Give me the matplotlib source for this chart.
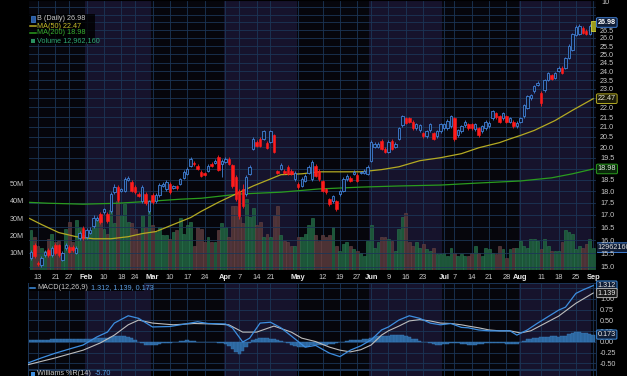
import matplotlib
matplotlib.use("Agg")
import matplotlib.pyplot as plt
import numpy as np
import pandas as pd
from matplotlib.lines import Line2D
from matplotlib.patches import Rectangle

# trading days on screen: Jan 9 .. Sep 2 2014
holidays = ["2014-01-20", "2014-02-17", "2014-04-18", "2014-05-26", "2014-07-04", "2014-09-01"]
days = pd.bdate_range("2014-01-09", "2014-09-02")
days = days[~days.isin(pd.to_datetime(holidays))]

opens = [
    15.33, 15.82, 15.16, 15.07, 15.44, 15.62, 15.44, 15.82, 15.80, 15.25,
    15.70, 15.74, 15.74, 15.51, 16.09, 16.49, 16.13, 16.29, 16.53, 16.81,
    17.02, 17.10, 17.02, 17.14, 17.95, 18.17, 18.00, 18.00, 18.50, 18.40,
    18.17, 17.87, 17.56, 17.87, 17.14, 17.82, 17.56, 17.82, 18.22, 18.09,
    18.31, 18.13, 18.22, 18.31, 18.58, 18.76, 19.13, 19.27, 19.13, 18.85,
    18.78, 18.90, 19.22, 19.27, 19.55, 19.22, 19.31, 19.45, 19.17, 18.62,
    18.00, 18.09, 17.87, 18.76, 19.93, 20.27, 20.42, 20.42, 20.22, 20.27,
    20.57, 18.88, 18.99, 18.90, 19.08, 18.90, 18.53, 18.31, 18.22, 18.44,
    18.81, 18.53, 19.13, 18.90, 18.44, 18.09, 17.65, 17.56, 17.56, 17.87,
    18.00, 18.53, 18.58, 18.76, 18.72, 18.81, 18.81, 18.76, 19.36, 20.02,
    20.02, 20.32, 19.93, 19.78, 20.32, 20.02, 20.42, 21.07, 21.43, 21.43,
    21.27, 20.92, 20.82, 20.67, 20.52, 20.82, 20.67, 20.52, 20.77, 20.92,
    20.92, 21.02, 21.43, 20.57, 20.77, 21.07, 21.12, 21.12, 20.87, 20.92,
    20.77, 20.92, 21.02, 21.43, 21.69, 21.53, 21.43, 21.53, 21.27, 21.27,
    21.02, 21.27, 21.53, 21.96, 22.49, 22.87, 23.21, 22.77, 22.93, 23.49,
    23.78, 23.61, 24.01, 24.19, 24.19, 24.78, 25.27, 26.17, 26.23, 26.65,
    26.46, 26.23, 26.52]
highs = [
    15.62, 15.90, 15.22, 15.40, 15.62, 15.70, 15.76, 15.88, 15.86, 15.58,
    15.90, 15.80, 15.80, 15.78, 16.35, 16.56, 16.48, 16.50, 16.98, 16.96,
    17.12, 17.30, 17.10, 17.95, 18.30, 18.26, 18.15, 18.62, 18.68, 18.50,
    18.25, 17.95, 18.25, 17.95, 17.62, 17.90, 17.90, 18.33, 18.38, 18.48,
    18.38, 18.26, 18.28, 18.58, 18.92, 19.05, 19.52, 19.33, 19.20, 18.92,
    18.85, 19.20, 19.28, 19.42, 19.62, 19.42, 19.52, 19.52, 19.22, 18.70,
    18.08, 18.30, 18.70, 19.15, 20.50, 20.35, 20.50, 20.85, 20.30, 20.85,
    20.65, 18.95, 19.24, 18.98, 19.14, 18.96, 18.88, 18.38, 18.60, 18.74,
    19.14, 19.40, 19.20, 18.96, 18.50, 18.15, 17.70, 17.85, 17.62, 18.06,
    18.60, 18.74, 18.64, 18.92, 18.78, 18.90, 18.96, 19.14, 20.35, 20.24,
    20.24, 20.40, 20.00, 20.34, 20.40, 20.24, 21.00, 21.62, 21.50, 21.50,
    21.35, 21.20, 21.14, 20.74, 20.84, 21.20, 20.74, 20.84, 21.20, 21.20,
    21.40, 21.60, 21.52, 20.90, 21.10, 21.34, 21.20, 21.20, 21.20, 21.00,
    21.10, 21.34, 21.30, 21.88, 21.76, 21.60, 21.76, 21.60, 21.50, 21.34,
    21.30, 21.50, 22.18, 22.68, 22.74, 23.24, 23.42, 22.88, 23.56, 23.98,
    23.86, 23.98, 24.28, 24.28, 24.86, 25.60, 26.32, 26.80, 26.88, 26.74,
    26.55, 26.86, 27.05]
lows = [
    15.26, 15.34, 15.05, 15.00, 15.38, 15.38, 15.38, 15.45, 15.38, 15.20,
    15.64, 15.50, 15.56, 15.46, 16.02, 16.02, 16.06, 16.22, 16.46, 16.76,
    16.62, 17.04, 16.66, 17.08, 17.88, 17.55, 17.94, 17.94, 18.44, 17.94,
    17.88, 17.74, 17.48, 17.42, 17.08, 17.46, 17.50, 17.76, 18.16, 18.02,
    17.88, 18.08, 18.06, 18.25, 18.52, 18.70, 19.06, 19.12, 18.92, 18.60,
    18.66, 18.84, 19.06, 19.20, 18.88, 18.62, 19.24, 19.16, 18.15, 17.58,
    16.85, 17.28, 17.80, 18.70, 19.86, 20.00, 20.00, 20.36, 19.90, 20.20,
    19.72, 18.74, 18.92, 18.74, 18.70, 18.70, 18.46, 18.10, 18.16, 18.38,
    18.74, 18.46, 18.60, 18.46, 17.94, 17.88, 17.38, 17.50, 17.16, 17.80,
    17.94, 18.46, 18.38, 18.70, 18.38, 18.74, 18.74, 18.70, 19.30, 19.95,
    19.95, 19.86, 19.72, 19.72, 19.86, 19.95, 20.36, 21.00, 21.15, 21.20,
    20.85, 20.86, 20.76, 20.45, 20.46, 20.76, 20.35, 20.46, 20.70, 20.86,
    20.86, 20.96, 20.30, 20.50, 20.70, 21.00, 20.86, 20.86, 20.80, 20.50,
    20.70, 20.86, 20.96, 21.36, 21.42, 21.20, 21.36, 21.20, 21.20, 20.96,
    20.96, 21.20, 21.46, 21.90, 22.42, 22.80, 23.14, 22.10, 22.86, 23.42,
    23.48, 23.54, 23.94, 23.84, 24.12, 24.72, 25.20, 26.10, 26.16, 26.26,
    26.16, 26.16, 26.46]
closes = [
    15.55, 15.40, 15.12, 15.33, 15.55, 15.44, 15.70, 15.51, 15.44, 15.51,
    15.82, 15.55, 15.62, 15.70, 16.29, 16.09, 16.41, 16.41, 16.89, 16.89,
    16.69, 17.23, 16.73, 17.87, 18.17, 17.61, 18.09, 18.53, 18.58, 18.00,
    17.95, 17.80, 18.17, 17.48, 17.56, 17.52, 17.82, 18.26, 18.31, 18.40,
    17.95, 18.20, 18.13, 18.53, 18.85, 18.99, 19.45, 19.19, 18.99, 18.67,
    18.72, 19.13, 19.13, 19.36, 18.95, 19.36, 19.45, 19.22, 18.22, 17.65,
    16.94, 17.35, 18.62, 19.08, 20.42, 20.07, 20.07, 20.77, 19.97, 20.77,
    19.78, 18.81, 19.17, 18.81, 18.76, 18.76, 18.81, 18.17, 18.53, 18.67,
    19.08, 19.31, 18.67, 18.53, 18.00, 17.95, 17.44, 17.78, 17.23, 18.00,
    18.53, 18.67, 18.44, 18.85, 18.44, 18.85, 18.90, 19.08, 20.27, 20.17,
    20.17, 19.93, 19.78, 20.27, 19.93, 20.17, 20.92, 21.53, 21.22, 21.27,
    20.92, 21.12, 21.07, 20.52, 20.77, 21.12, 20.42, 20.77, 21.12, 21.12,
    21.32, 21.53, 20.42, 20.82, 21.02, 21.27, 20.92, 20.92, 21.12, 20.57,
    21.02, 21.27, 21.22, 21.80, 21.48, 21.27, 21.69, 21.27, 21.43, 21.02,
    21.22, 21.43, 22.11, 22.60, 22.65, 23.15, 23.32, 22.22, 23.49, 23.90,
    23.55, 23.90, 24.19, 23.90, 24.78, 25.52, 26.23, 26.71, 26.78, 26.33,
    26.23, 26.78, 26.98]
volume_m = [
    23, 19, 14, 13, 11, 18, 21, 16, 17, 10,
    24, 28, 16, 29, 25, 20, 19, 22, 27, 30,
    31, 24, 21, 35, 27, 40, 32, 38, 28, 27,
    24, 21, 32, 25, 35, 26, 22, 25, 20, 20,
    18, 22, 23, 30, 21, 26, 28, 14, 25,
    24, 16, 19, 16, 16, 23, 27, 25, 19, 37,
    37, 31, 27, 41, 31, 36, 26, 28, 19, 21,
    19, 32, 37, 20, 17, 16, 14, 14, 19, 19,
    21, 26, 30, 20, 17, 20, 19, 20, 25, 14,
    11, 15, 16, 14, 12, 11, 10, 8, 17, 26,
    13, 16, 19, 19, 18, 17, 11, 24, 31, 33,
    16, 14, 16, 13, 15, 12, 11, 13, 9, 9,
    10, 8, 13, 10, 8, 9, 8, 8, 10, 14,
    10, 8, 13, 12, 10, 9, 14, 12, 7, 12,
    13, 13, 17, 14, 13, 18, 18, 17, 12, 18,
    14, 11, 11, 11, 16, 23, 22, 21, 12, 14,
    13, 15, 18, 12.96]

# moving averages (day number, value)
ma50_day = [-1, 3, 8, 13, 18, 23, 28, 32, 36, 41, 46, 49, 54, 59, 64, 69, 72, 78, 83, 89,
            95, 101, 106, 112, 118, 124, 129, 135, 138, 141, 145, 151, 156, 162]
ma50_val = [16.89, 16.61, 16.29, 16.13, 16.05, 16.05, 16.13, 16.25, 16.33, 16.61,
            16.89, 17.14, 17.52, 17.87, 18.22, 18.53, 18.72, 18.76, 18.85, 18.85,
            18.85, 18.95, 19.08, 19.36, 19.50, 19.69, 19.97, 20.22, 20.40, 20.57,
            20.82, 21.32, 21.85, 22.47]
ma200_day = [-1, 5, 15, 25, 34, 43, 49, 60, 72, 83, 95, 106, 118, 129, 141, 150, 156, 162]
ma200_val = [17.52, 17.48, 17.44, 17.48, 17.56, 17.65, 17.69, 17.87, 17.95, 18.09,
             18.17, 18.22, 18.26, 18.35, 18.44, 18.58, 18.76, 18.98]

macd_day = [-1, 3, 7, 12, 15, 19, 22, 24, 28, 31, 35, 40, 43, 48, 51, 56, 58, 61, 63, 66,
            69, 72, 75, 79, 82, 86, 89, 92, 95, 98, 101, 103, 106, 109, 112, 115, 118, 121,
            124, 126, 129, 132, 135, 138, 140, 143, 146, 149, 152, 154, 157, 159, 162]
macd_val = [-0.49, -0.37, -0.26, -0.14, -0.07, 0.12, 0.23, 0.44, 0.61, 0.55,
            0.35, 0.36, 0.40, 0.47, 0.43, 0.42, 0.33, 0.00, 0.09, 0.44,
            0.46, 0.33, 0.14, -0.12, -0.08, -0.26, -0.34, -0.19, -0.09, 0.05,
            0.28, 0.35, 0.51, 0.61, 0.55, 0.44, 0.40, 0.43, 0.34, 0.33,
            0.28, 0.26, 0.26, 0.26, 0.16, 0.28, 0.44, 0.59, 0.74, 0.81,
            1.13, 1.21, 1.312]
signal_day = [-1, 7, 15, 20, 24, 28, 31, 35, 41, 47, 52, 57, 61, 65, 70, 75, 78, 82, 86, 89,
              92, 95, 98, 101, 103, 106, 109, 112, 115, 118, 121, 124, 126, 129, 132, 135,
              138, 141, 144, 148, 152, 157, 162]
signal_val = [-0.53, -0.37, -0.19, -0.02, 0.16, 0.40, 0.51, 0.44, 0.40, 0.43,
              0.42, 0.40, 0.23, 0.23, 0.37, 0.23, 0.09, 0.01, -0.12, -0.19,
              -0.23, -0.18, -0.07, 0.16, 0.26, 0.37, 0.49, 0.52, 0.49, 0.44,
              0.43, 0.40, 0.37, 0.33, 0.28, 0.26, 0.26, 0.21, 0.26, 0.43,
              0.60, 0.90, 1.139]
hist_val = [
    0.05, 0.05, 0.05, 0.05, 0.05, 0.05, 0.06, 0.06, 0.06, 0.07,
    0.07, 0.07, 0.07, 0.07, 0.07, 0.07, 0.08, 0.08, 0.08, 0.09,
    0.09, 0.09, 0.10, 0.12, 0.13, 0.14, 0.14, 0.13, 0.12, 0.09,
    0.05, 0.01, -0.03, -0.06, -0.08, -0.07, -0.06, -0.04, -0.03, -0.03,
    -0.02, -0.01, 0.01, 0.02, 0.03, 0.04, 0.03, 0.02, 0.01, 0.01,
    0.00, 0.00, -0.01, -0.01, -0.02, -0.02, -0.04, -0.09, -0.16, -0.24,
    -0.27, -0.22, -0.12, -0.03, 0.04, 0.08, 0.10, 0.10, 0.09, 0.08,
    0.06, 0.04, 0.02, 0.00, -0.03, -0.06, -0.09, -0.11, -0.12, -0.12,
    -0.10, -0.08, -0.07, -0.07, -0.06, -0.06, -0.05, -0.04, -0.02, -0.01,
    0.01, 0.03, 0.04, 0.05, 0.05, 0.05, 0.06, 0.08, 0.10, 0.11,
    0.13, 0.14, 0.14, 0.15, 0.16, 0.16, 0.17, 0.16, 0.14, 0.11,
    0.08, 0.06, 0.03, 0.01, 0.00, -0.02, -0.04, -0.06, -0.06, -0.05,
    -0.04, -0.03, -0.03, -0.03, -0.04, -0.05, -0.06, -0.06, -0.06, -0.05,
    -0.04, -0.03, -0.02, -0.02, -0.02, -0.02, -0.03, -0.04, -0.05, -0.05,
    -0.04, -0.01, 0.03, 0.06, 0.08, 0.09, 0.10, 0.11, 0.12, 0.12,
    0.13, 0.13, 0.12, 0.13, 0.15, 0.18, 0.21, 0.23, 0.24, 0.22,
    0.20, 0.19, 0.173]

tick_dates = ["2014-01-13", "2014-01-21", "2014-01-27", "2014-02-03", "2014-02-10", "2014-02-18",
              "2014-02-24", "2014-03-03", "2014-03-10", "2014-03-17", "2014-03-24", "2014-04-01",
              "2014-04-07", "2014-04-14", "2014-04-21", "2014-05-01", "2014-05-12", "2014-05-19",
              "2014-05-27", "2014-06-02", "2014-06-09", "2014-06-16", "2014-06-23", "2014-07-01",
              "2014-07-07", "2014-07-14", "2014-07-21", "2014-07-28", "2014-08-01", "2014-08-11",
              "2014-08-18", "2014-08-25", "2014-09-02"]
tick_labels = ["13", "21", "27", "Feb", "10", "18", "24", "Mar", "10", "17", "24", "Apr", "7",
               "14", "21", "May", "12", "19", "27", "Jun", "9", "16", "23", "Jul", "7", "14",
               "21", "28", "Aug", "11", "18", "25", "Sep"]
shade_from = ["2014-02-03", "2014-04-01", "2014-06-02", "2014-08-01"]
shade_to = ["2014-03-03", "2014-05-01", "2014-07-01", "2014-09-02"]

price_ticks = np.arange(15.0, 28.01, 0.5)
hidden_prices = [19.0, 22.5, 27.0, 27.5, 28.0]
vol_ticks = [10, 20, 30, 40, 50]
macd_ticks = [-0.5, -0.25, 0.0, 0.25, 0.5, 0.75, 1.0, 1.25]
macd_shown = [-0.5, -0.25, 0.0, 0.25, 0.5, 0.75, 1.0]

# colours
BG = "#06060c"
SHADE = "#16132c"
GRID = "#1b3556"
TXT = "#c8c8c8"
UP_EDGE = "#4282d8"
UP_FACE = "#0e1830"
DOWN = "#ff1c1c"
VOL_UP = "#1c5638"
VOL_DN = "#4c3234"
MA50_C = "#b4aa22"
MA200_C = "#2a9c1e"
MACD_C = "#3d8ee0"
SIG_C = "#bdbdbd"
HIST_C = "#2c669e"
FS = 5.2

W, H = 627, 376


def px_rect(x0, y0, x1, y1):
    return [x0 / W, 1 - y1 / H, (x1 - x0) / W, (y1 - y0) / H]


def fx(px):
    return px / W


def fy(py):
    return 1 - py / H


plt.rcParams["font.family"] = ["Liberation Sans", "DejaVu Sans"]
fig = plt.figure(figsize=(W / 100, H / 100), dpi=100, facecolor="black")

axv = fig.add_axes(px_rect(28, 0, 596, 270))
ax = fig.add_axes(px_rect(28, 0, 596, 270), sharex=axv)
axm = fig.add_axes(px_rect(28, 283, 596, 369), sharex=axv)
axw = fig.add_axes(px_rect(28, 370, 596, 400), sharex=axv)
ax.patch.set_visible(False)

x = np.arange(len(closes))
o = np.array(opens)
c = np.array(closes)
up = c >= o
tick_pos = days.get_indexer(pd.to_datetime(tick_dates))
s_from = days.get_indexer(pd.to_datetime(shade_from))
s_to = days.get_indexer(pd.to_datetime(shade_to))

for a in (axv, axm, axw):
    a.set_facecolor(BG)
    for s0, s1 in zip(s_from, s_to):
        a.axvspan(s0 - 0.5, s1 - 0.5, color=SHADE, lw=0, zorder=0)
    for p in tick_pos:
        a.axvline(p, color=GRID, lw=0.6, zorder=0.5)
    for sp in a.spines.values():
        sp.set_color(GRID)
        sp.set_linewidth(0.7)
axw.set_facecolor("black")

# volume
axv.bar(x, volume_m, width=0.82, color=np.where(up, VOL_UP, VOL_DN),
        edgecolor=np.where(up, "#2a7650", "#684446"), linewidth=0.4, zorder=1)
axv.set_ylim(0, 156.5)
axv.set_yticks(vol_ticks)
axv.set_yticklabels([f"{v}M" for v in vol_ticks])
axv.tick_params(axis="y", length=0, pad=3, labelsize=FS, colors=TXT)
axv.set_xticks(tick_pos)
axv.set_xticklabels(tick_labels)
axv.tick_params(axis="x", length=0, pad=3.0, labelsize=FS + 0.2, colors=TXT)
for lab in axv.get_xticklabels():
    if lab.get_text().isalpha():
        lab.set_fontweight("bold")
        lab.set_color("#e8e8e8")

# price
ax.set_yscale("log")
ax.set_ylim(14.89, 28.48)
for p in price_ticks:
    ax.axhline(p, color=GRID, lw=0.6, zorder=0.5)
ax.yaxis.set_minor_locator(plt.NullLocator())
ax.yaxis.set_minor_formatter(plt.NullFormatter())
ax.set_yticks(price_ticks)
ax.set_yticklabels(["" if any(abs(p - h) < 1e-6 for h in hidden_prices) else f"{p:.1f}"
                    for p in price_ticks])
ax.yaxis.tick_right()
ax.tick_params(axis="y", which="both", length=0, pad=3, labelsize=FS, colors=TXT)
ax.tick_params(axis="x", bottom=False, labelbottom=False)

ax.plot(ma200_day, ma200_val, color=MA200_C, lw=0.9, zorder=2)
ax.plot(ma50_day, ma50_val, color=MA50_C, lw=0.9, zorder=2)

body_lo = np.minimum(o, c)
body_h = np.maximum(np.abs(c - o), 0.02)
wick_col = np.where(up, UP_EDGE, DOWN)
ax.vlines(x, lows, highs, colors=wick_col, lw=0.6, zorder=3)
ax.bar(x[up], body_h[up], bottom=body_lo[up], width=0.7, color=UP_FACE,
       edgecolor=UP_EDGE, linewidth=0.6, zorder=4)
ax.bar(x[~up], body_h[~up], bottom=body_lo[~up], width=0.7, color=DOWN,
       edgecolor=DOWN, linewidth=0.4, zorder=4)
# highlighted last bar
ax.bar(x[-1], highs[-1] - lows[-1], bottom=lows[-1], width=1.5, color="#9a9a1c",
       edgecolor="#d2d23a", linewidth=0.6, zorder=5)

ax.set_xlim(-0.88, 162.8)

# price side boxes
ty = ax.get_yaxis_transform()
ax.text(1.003, closes[-1], f"{closes[-1]:.2f}", transform=ty, va="center", ha="left",
        fontsize=FS, color="white", fontweight="bold", zorder=10,
        bbox=dict(boxstyle="round,pad=0.18", fc="#0f1c34", ec=UP_EDGE, lw=0.7))
ax.text(1.003, ma50_val[-1], f"{ma50_val[-1]:.2f}", transform=ty, va="center", ha="left",
        fontsize=FS, color="#e6e6d0", zorder=10,
        bbox=dict(boxstyle="round,pad=0.18", fc="#1c1c08", ec=MA50_C, lw=0.7))
ax.text(1.003, ma200_val[-1], f"{ma200_val[-1]:.2f}", transform=ty, va="center", ha="left",
        fontsize=FS, color="#dcecdc", zorder=10,
        bbox=dict(boxstyle="round,pad=0.18", fc="#0a280a", ec=MA200_C, lw=0.7))
axv.text(1.003, volume_m[-1], "12962160", transform=axv.get_yaxis_transform(), va="center",
         ha="left", fontsize=FS, color="#e0e0e0", zorder=10, clip_on=False,
         bbox=dict(boxstyle="round,pad=0.18", fc="#0f1c34", ec=UP_EDGE, lw=0.7))
fig.text(fx(601), fy(3), "10", fontsize=FS, color=TXT, va="center", ha="left")

# MACD panel
axm.bar(x, hist_val, width=1.0, color=HIST_C, edgecolor="#3a7cbc", linewidth=0.3, zorder=1)
for v in macd_ticks:
    axm.axhline(v, color=GRID, lw=0.6, zorder=0.5)
axm.plot(signal_day, signal_val, color=SIG_C, lw=0.8, zorder=3)
axm.plot(macd_day, macd_val, color=MACD_C, lw=0.9, zorder=4)
axm.set_ylim(-0.628, 1.372)
axm.set_yticks(macd_shown)
axm.set_yticklabels([f"{v:.2f}" for v in macd_shown])
axm.yaxis.tick_right()
axm.tick_params(axis="y", length=0, pad=3, labelsize=FS, colors=TXT)
axm.tick_params(axis="x", bottom=False, labelbottom=False)
tm = axm.get_yaxis_transform()
for val, ec, fc in [(macd_val[-1], MACD_C, "#0f1c34"), (signal_val[-1], "#b0b0b0", "#1a1a1a"),
                    (hist_val[-1], MACD_C, "#0f1c34")]:
    axm.text(1.003, val, f"{val:.3f}", transform=tm, va="center", ha="left", fontsize=FS,
             color="#e8e8e8", zorder=10, clip_on=False,
             bbox=dict(boxstyle="round,pad=0.15", fc=fc, ec=ec, lw=0.7))

axw.set_ylim(0, 1)
axw.set_yticks([])
axw.tick_params(axis="x", bottom=False, labelbottom=False)


def text_after(prev, s, col):
    # a text placed just right of another one
    return fig.add_artist(matplotlib.text.Annotation(
        s, xy=(1, 0.5), xycoords=prev, xytext=(2.5, 0), textcoords="offset points",
        fontsize=FS, color=col, va="center", ha="left", zorder=22))


# price legend
fig.add_artist(Rectangle((fx(29), fy(44)), 66 / W, 30 / H, transform=fig.transFigure,
                         fc="black", ec="none", alpha=0.8, zorder=20))
fig.add_artist(Rectangle((fx(30.5), fy(21.5)), 4 / W, 5 / H, transform=fig.transFigure,
                         fc="#2a5aa0", ec=UP_EDGE, lw=0.5, zorder=21))
fig.add_artist(Line2D([fx(30), fx(36)], [fy(26), fy(26)], transform=fig.transFigure,
                      color=MA50_C, lw=1.1, zorder=21))
fig.add_artist(Line2D([fx(30), fx(36)], [fy(33), fy(33)], transform=fig.transFigure,
                      color=MA200_C, lw=1.1, zorder=21))
fig.add_artist(Rectangle((fx(30.5), fy(43)), 4.5 / W, 4 / H, transform=fig.transFigure,
                         fc="#2a9060", ec="none", zorder=21))
legend_rows = [(19, f"B (Daily) {closes[-1]:.2f}", TXT),
               (26, f"MA(50) {ma50_val[-1]:.2f}", "#c8be2a"),
               (33, f"MA(200) {ma200_val[-1]:.2f}", "#38b030"),
               (40.5, "Volume 12,962,160", "#2fa874")]
for py, s, col in legend_rows:
    fig.text(fx(37), fy(py), s, fontsize=FS, color=col, va="center", ha="left", zorder=22)

# MACD legend
fig.add_artist(Rectangle((fx(29), fy(291)), 115 / W, 8 / H, transform=fig.transFigure,
                         fc="black", ec="none", alpha=0.85, zorder=20))
fig.add_artist(Line2D([fx(30), fx(35)], [fy(287.5), fy(287.5)], transform=fig.transFigure,
                      color=MACD_C, lw=1.1, zorder=21))
t_macd = fig.text(fx(37), fy(287.5), "MACD(12,26,9)", fontsize=FS, color=TXT, va="center",
                  zorder=22)
text_after(t_macd, f"{macd_val[-1]:.3f}, {signal_val[-1]:.3f}, {hist_val[-1]:.3f}", "#5a9ee0")

# Williams %R legend (panel mostly below the picture)
fig.add_artist(Rectangle((fx(30.5), fy(376)), 4 / W, 4 / H, transform=fig.transFigure,
                         fc=MACD_C, ec="none", zorder=21))
t_w = fig.text(fx(37), fy(373.5), "Williams %R(14)", fontsize=FS, color=TXT, va="center",
               zorder=22)
text_after(t_w, "-5.70", "#5a9ee0")

fig.savefig("out.png", dpi=100, facecolor="black")
